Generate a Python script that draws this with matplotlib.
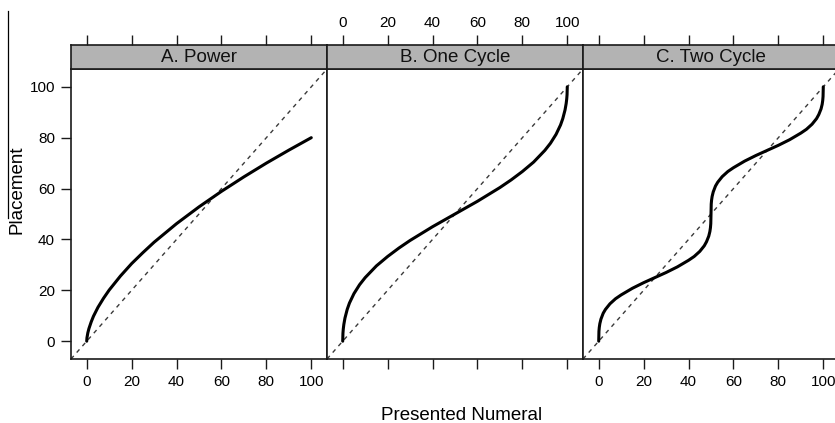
import matplotlib
matplotlib.use("Agg")
import matplotlib.pyplot as plt
from matplotlib.lines import Line2D

# ---------------- data ----------------
panel_titles = ["A. Power", "B. One Cycle", "C. Two Cycle"]
tick_values = [0, 20, 40, 60, 80, 100]
tick_labels = ["0", "20", "40", "60", "80", "100"]
x_label = "Presented Numeral"
y_label = "Placement"

power_x = [0, 0.1, 0.5, 1, 2, 3, 5, 7.5, 10, 15, 20, 25, 30, 40, 50, 60, 70, 80, 90, 100]
power_y = [0, 1.3, 3.3, 5.0, 7.6, 9.8, 13.3, 16.9, 20.1, 25.6, 30.5, 34.8, 38.9,
           46.2, 52.8, 58.9, 64.6, 70.0, 75.1, 80.0]

one_x = [0, 0.1, 0.25, 0.5, 1, 2, 3, 5, 7.5, 10, 15, 20, 25, 30, 35, 40, 45, 50,
         55, 60, 65, 70, 75, 80, 85, 90, 92.5, 95, 97, 98, 99, 99.5, 99.75, 99.9, 100]
one_y = [0, 3.1, 4.8, 6.6, 9.1, 12.5, 15.0, 18.7, 22.2, 25.0, 29.6, 33.3, 36.6, 39.6,
         42.3, 45.0, 47.5, 50.0, 52.5, 55.0, 57.7, 60.4, 63.4, 66.7, 70.4, 75.0, 77.8,
         81.3, 85.0, 87.5, 90.9, 93.4, 95.2, 96.9, 100]

two_x = [0, 0.1, 0.25, 0.5, 1, 2, 3, 5, 7.5, 10, 15, 20, 25, 30, 35, 40, 42.5, 45,
         47, 48, 49, 49.5, 49.75, 49.9, 50, 50.1, 50.25, 50.5, 51, 52, 53, 55, 57.5,
         60, 65, 70, 75, 80, 85, 90, 92.5, 95, 97, 98, 99, 99.5, 99.75, 99.9, 100]
two_y = [0, 3.9, 5.4, 6.9, 8.7, 11.0, 12.5, 14.7, 16.7, 18.2, 20.8, 23.0, 25.0, 27.0,
         29.2, 31.8, 33.3, 35.3, 37.5, 39.1, 41.3, 43.1, 44.6, 46.2, 50.0, 53.9, 55.4,
         56.9, 58.7, 61.0, 62.5, 64.7, 66.7, 68.2, 70.8, 73.0, 75.0, 77.0, 79.2, 81.8,
         83.3, 85.3, 87.5, 89.1, 91.3, 93.1, 94.6, 96.2, 100]

series_x = [power_x, one_x, two_x]
series_y = [power_y, one_y, two_y]

# ---------------- layout ----------------
W, H = 835, 423
plt.rcParams["font.family"] = ["Liberation Sans", "DejaVu Sans"]
fig = plt.figure(figsize=(W / 100, H / 100), dpi=100)

panel_lefts = [71, 327, 583]
panel_w = 256
p_top, p_bot, s_top = 69, 359, 45
lim = (-7, 107)
edge = "#1a1a1a"
tick_len = 7
tick_fs = 11
big_fs = 13.5


def fx(px):
    return px / W


for i, left in enumerate(panel_lefts):
    ax = fig.add_axes([fx(left), 1 - p_bot / H, panel_w / W, (p_bot - p_top) / H])
    ax.set_xlim(lim)
    ax.set_ylim(lim)
    ax.axline((0, 0), slope=1, color="#3a3a3a", lw=1.0, ls=(0, (3, 3.2)))
    ax.plot(series_x[i], series_y[i], color="black", lw=2.2, solid_capstyle="round")
    for sp in ax.spines.values():
        sp.set_color(edge)
        sp.set_linewidth(1.2)
    ax.set_xticks(tick_values)
    ax.set_yticks(tick_values)
    ax.tick_params(direction="out", length=tick_len, width=1.0, color=edge,
                   labelsize=tick_fs, pad=4.5, top=False)
    if i == 1:
        ax.tick_params(axis="x", labelbottom=False)
    else:
        ax.set_xticklabels(tick_labels)
    if i == 0:
        ax.set_yticklabels(tick_labels)
        ax.tick_params(axis="y", left=True, right=False, labelleft=True)
    elif i == 2:
        ax.tick_params(axis="y", left=False, right=True, labelleft=False, labelright=False)
    else:
        ax.tick_params(axis="y", left=False, right=False, labelleft=False)

    # strip
    sax = fig.add_axes([fx(left), 1 - p_top / H, panel_w / W, (p_top - s_top) / H])
    sax.set_facecolor("#b3b3b3")
    sax.set_xlim(lim)
    sax.set_yticks([])
    for sp in sax.spines.values():
        sp.set_color(edge)
        sp.set_linewidth(1.2)
    sax.xaxis.tick_top()
    sax.set_xticks(tick_values)
    sax.tick_params(axis="x", direction="out", length=tick_len, width=1.0, color=edge,
                    labelsize=tick_fs, pad=4, bottom=False, labelbottom=False,
                    labeltop=(i == 1))
    if i == 1:
        sax.set_xticklabels(tick_labels)
    sax.text(0.5, 0.46, panel_titles[i], transform=sax.transAxes, ha="center",
             va="center", fontsize=big_fs, color="#111111")

fig.text(462 / W, 1 - 415 / H, x_label, ha="center", va="center", fontsize=big_fs)
fig.text(17 / W, 1 - 190 / H, y_label, ha="center", va="center", rotation=90,
         fontsize=big_fs)

# stray vertical rule at the far left
fig.add_artist(Line2D([8 / W, 8 / W], [1 - 11 / H, 1 - 218 / H],
                      transform=fig.transFigure, color="black", lw=0.9))

fig.savefig("out.png", dpi=100)
